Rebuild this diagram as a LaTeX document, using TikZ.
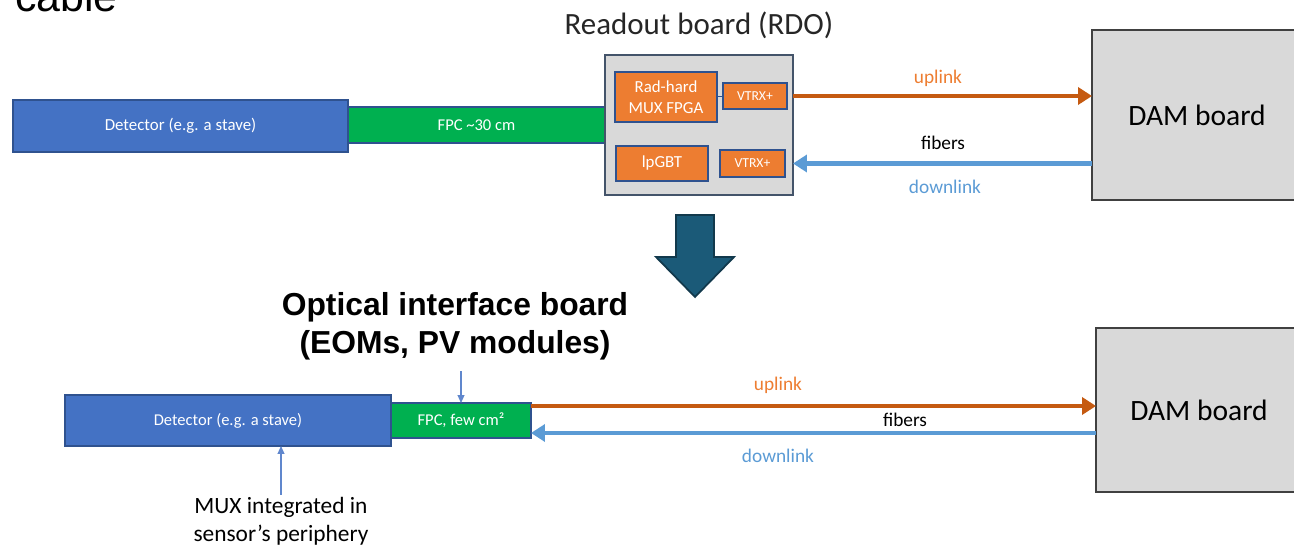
\documentclass[tikz,border=0pt]{standalone}
\usepackage{fontspec}
\setmainfont{Carlito}
\newfontfamily\arialfont{Liberation Sans}
\usetikzlibrary{arrows.meta}

\definecolor{detblue}{HTML}{4472C4}
\definecolor{edgeblue}{HTML}{2F528F}
\definecolor{fpcgreen}{HTML}{00B050}
\definecolor{chiporange}{HTML}{ED7D31}
\definecolor{upline}{HTML}{C55A11}
\definecolor{downline}{HTML}{5B9BD5}
\definecolor{boardgray}{HTML}{D9D9D9}
\definecolor{rdoedge}{HTML}{44546A}
\definecolor{bigarrow}{HTML}{1B5A78}
\definecolor{bigarrowedge}{HTML}{12394C}

\begin{document}
\begin{tikzpicture}[x=0.02cm, y=-0.02cm,
  box/.style={draw=edgeblue, line width=0.8pt, inner sep=0pt, outer sep=0pt, align=center, text=white},
  detector/.style={box, fill=detblue, font=\fontsize{9.4}{11}\selectfont},
  fpc/.style={box, fill=fpcgreen, font=\fontsize{9.4}{11}\selectfont},
  chip/.style={box, fill=chiporange, font=\fontsize{9.6}{12}\selectfont},
  board/.style={draw=black!75, line width=0.8pt, fill=boardgray, inner sep=0pt, outer sep=0pt, font=\fontsize{16.8}{20}\selectfont},
  uplink/.style={draw=upline, line width=2.3pt, -{Triangle[length=0.28cm, width=0.34cm]}},
  downlink/.style={draw=downline, line width=2.3pt, -{Triangle[length=0.28cm, width=0.34cm]}},
  linklabel/.style={font=\fontsize{11}{13}\selectfont, inner sep=0pt},
  note/.style={draw=detblue!85, line width=0.6pt, -{Triangle[length=0.16cm, width=0.14cm]}},
  ]
  \useasboundingbox (0,0) rectangle (1294,546);

  %%% leftover slide text %%%
  \node[font=\arialfont\fontsize{24.4}{28}\selectfont, anchor=base west, inner sep=0pt] (cabletxt) at (15,12) {cable};

  %%% present chain: detector -> FPC -> RDO -> DAM %%%
  \node[font=\fontsize{17.6}{20}\selectfont, text=black!85] (rdotitle) at (699,25) {Readout board (RDO)};
  \node[detector, font=\fontsize{9.6}{11}\selectfont, minimum width=6.70cm, minimum height=1.04cm] (det1) at (180.5,126) {Detector (e.g. a stave)};
  \node[fpc, minimum width=5.14cm, minimum height=0.72cm] (fpc1) at (476.5,125) {FPC \textasciitilde30 cm};
  \node[box, draw=rdoedge, fill=boardgray, minimum width=3.76cm, minimum height=2.80cm] (rdo) at (699,125) {};
  \node[chip, minimum width=2.04cm, minimum height=1.00cm] (fpga) at (666,97) {Rad-hard\\MUX FPGA};
  \node[chip, font=\fontsize{7.8}{9}\selectfont, minimum width=1.28cm, minimum height=0.52cm] (vtrxup) at (755,96) {VTRX+};
  \node[chip, minimum width=1.84cm, minimum height=0.70cm] (lpgbt) at (662,163.5) {lpGBT};
  \node[chip, font=\fontsize{7.8}{9}\selectfont, minimum width=1.30cm, minimum height=0.54cm] (vtrxdn) at (752.5,163.5) {VTRX+};
  \draw[edgeblue, line width=0.5pt] (fpga.east |- vtrxup.west) -- (vtrxup.west);
  \node[board, minimum width=4.20cm, minimum height=3.40cm] (dam1) at (1197,115) {DAM board};

  %%% fibers %%%
  \draw[uplink] (vtrxup.east -| rdo.east) -- (vtrxup.east -| dam1.west);
  \draw[downlink] (vtrxdn.east -| dam1.west) -- (vtrxdn.east -| rdo.east);
  \node[linklabel, text=chiporange] (uplab1) at (938,78) {uplink};
  \node[linklabel] (fiblab1) at (943,143) {fibers};
  \node[linklabel, text=downline] (dnlab1) at (945,187) {downlink};

  %%% transition arrow %%%
  \fill[bigarrow, draw=bigarrowedge, line width=1pt]
    (676,215) -- (714,215) -- (714,257) -- (734,257) -- (695,297) -- (656,257) -- (676,257) -- cycle;

  %%% proposed chain: detector -> short FPC -> DAM %%%
  \node[font=\arialfont\bfseries\fontsize{18.1}{21.5}\selectfont, align=center, inner sep=0pt] (oib) at (455,326) {Optical interface board\\(EOMs, PV modules)};
  \node[detector, minimum width=6.52cm, minimum height=1.02cm] (det2) at (228,420.5) {Detector (e.g. a stave)};
  \node[fpc, minimum width=2.80cm, minimum height=0.70cm] (fpc2) at (461,420.5) {FPC, few cm²};
  \node[board, minimum width=4.12cm, minimum height=3.28cm] (dam2) at (1199,410) {DAM board};
  \node[align=center, font=\fontsize{13.3}{15.9}\selectfont, inner sep=1pt] (mux) at (281,521) {MUX integrated in\\sensor’s periphery};

  \coordinate (up2) at ([yshift=0.29cm]fpc2.east);
  \coordinate (dn2) at ([yshift=-0.25cm]fpc2.east);
  \draw[uplink] (up2) -- (up2 -| dam2.west);
  \draw[downlink] (dn2 -| dam2.west) -- (dn2);
  \node[linklabel, text=chiporange] (uplab2) at (778,385) {uplink};
  \node[linklabel] (fiblab2) at (905,420) {fibers};
  \node[linklabel, text=downline] (dnlab2) at (778,456) {downlink};

  %%% annotation pointers %%%
  \draw[note, shorten <=0.22cm] (oib.south -| fpc2.north) -- (fpc2.north);
  \draw[note] (mux.north) -- (mux.north |- det2.south);
\end{tikzpicture}
\end{document}
